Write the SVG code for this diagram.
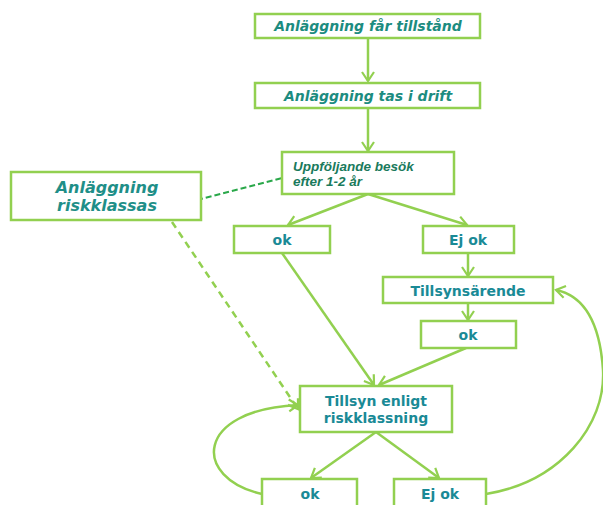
<svg xmlns="http://www.w3.org/2000/svg" width="603" height="505" viewBox="0 0 603 505">
<defs>
<marker id="arr" markerUnits="userSpaceOnUse" markerWidth="16" markerHeight="16" refX="10" refY="7" orient="auto" overflow="visible">
<path d="M1,1 L10,7 L1,13" fill="none" stroke="#92d050" stroke-width="2.2" stroke-linejoin="miter"/>
</marker>
</defs>
<style>
.box{fill:#ffffff;stroke:#92d050;stroke-width:2.5}
.ln{fill:none;stroke:#92d050;stroke-width:2.5}
.lbl{font-family:"DejaVu Sans",sans-serif;font-weight:bold;font-size:14px;fill:#1a8a96;text-anchor:middle}
.it{font-family:"DejaVu Sans",sans-serif;font-weight:bold;font-style:italic;font-size:14px;fill:#1c8c80;text-anchor:middle}
.it2{font-family:"Liberation Sans",Arial,sans-serif;font-weight:bold;font-style:italic;font-size:13.5px;fill:#1a7a5c}
</style>
<g id="connectors">
<line class="ln" x1="368" y1="38" x2="368" y2="81" marker-end="url(#arr)"/>
<line class="ln" x1="368" y1="108" x2="368" y2="151" marker-end="url(#arr)"/>
<line class="ln" x1="368" y1="194" x2="288" y2="225" marker-end="url(#arr)"/>
<line class="ln" x1="368" y1="194" x2="467" y2="225" marker-end="url(#arr)"/>
<line class="ln" x1="468" y1="253" x2="468" y2="276" marker-end="url(#arr)"/>
<line class="ln" x1="468" y1="304" x2="468" y2="320" marker-end="url(#arr)"/>
<line class="ln" x1="282" y1="253" x2="374" y2="385" marker-end="url(#arr)"/>
<line class="ln" x1="466" y1="348" x2="379" y2="385" marker-end="url(#arr)"/>
<line class="ln" x1="376" y1="432" x2="311" y2="478" marker-end="url(#arr)"/>
<line class="ln" x1="376" y1="432" x2="439" y2="478" marker-end="url(#arr)"/>
<path class="ln" d="M262,494 C192,478 194,410 298,405" marker-end="url(#arr)"/>
<path class="ln" d="M486,494 C560,482 606,425 603,370 C600,325 585,296 556,290" marker-end="url(#arr)"/>
<line x1="197" y1="200" x2="282" y2="178" fill="none" stroke="#2aa84a" stroke-width="2" stroke-dasharray="6,3"/>
<line x1="172" y1="222" x2="298" y2="409" fill="none" stroke="#92d050" stroke-width="2.5" stroke-dasharray="7,5" marker-end="url(#arr)"/>
</g>
<g id="n1"><rect class="box" x="255" y="14" width="225" height="24"/><text class="it" x="368" y="31">Anläggning får tillstånd</text></g>
<g id="n2"><rect class="box" x="255" y="83" width="225" height="25"/><text class="it" x="368" y="101">Anläggning tas i drift</text></g>
<g id="n3"><rect class="box" x="282" y="152" width="172" height="42"/><text class="it2" x="293" y="171">Uppföljande besök</text><text class="it2" x="293" y="186">efter 1-2 år</text></g>
<g id="n4"><rect class="box" x="11" y="172" width="190" height="48"/><text class="it" style="font-size:16px;fill:#1f8f88" x="107" y="193">Anläggning</text><text class="it" style="font-size:16px;fill:#1f8f88" x="107" y="211">riskklassas</text></g>
<g id="n5"><rect class="box" x="234" y="226" width="96" height="27"/><text class="lbl" x="282" y="245">ok</text></g>
<g id="n6"><rect class="box" x="423" y="226" width="91" height="27"/><text class="lbl" x="468" y="245">Ej ok</text></g>
<g id="n7"><rect class="box" x="383" y="277" width="170" height="26"/><text class="lbl" x="468" y="296">Tillsynsärende</text></g>
<g id="n8"><rect class="box" x="421" y="321" width="95" height="27"/><text class="lbl" x="468" y="340">ok</text></g>
<g id="n9"><rect class="box" x="300" y="386" width="152" height="46"/><text class="lbl" x="376" y="406">Tillsyn enligt</text><text class="lbl" x="376" y="423">riskklassning</text></g>
<g id="n10"><rect class="box" x="262" y="479" width="95" height="34"/><text class="lbl" x="310" y="499">ok</text></g>
<g id="n11"><rect class="box" x="394" y="479" width="92" height="34"/><text class="lbl" x="440" y="499">Ej ok</text></g>
</svg>
